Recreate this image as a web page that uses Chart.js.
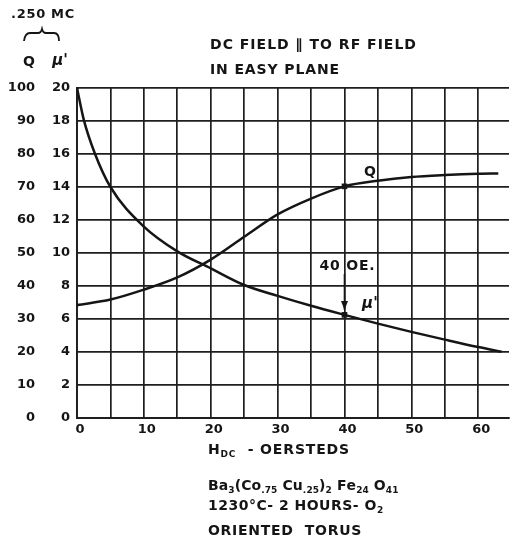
<!DOCTYPE html>
<html>
<head>
<meta charset="utf-8">
<script src="https://cdn.jsdelivr.net/npm/chart.js@4.4.1/dist/chart.umd.min.js"></script>
<style>
  html, body { margin: 0; padding: 0; background: #fff; }
  #wrap { width: 513px; height: 543px; }
</style>
</head>
<body>
<div id="wrap"><canvas id="chart" width="513" height="543"></canvas></div>
<script>
// H_DC in oersteds
const qField = [0, 5, 10, 15, 20, 25, 30, 35, 40, 45, 50, 55, 60, 63];
const qValues = [34.2, 35.9, 38.9, 42.6, 48, 54.9, 61.7, 66.5, 70.2, 71.9, 73, 73.6, 74, 74.1];

const muField = [0, 1, 2.7, 5, 10, 15, 20, 25, 30, 35, 40, 45, 50, 55, 60, 63.5];
const muValues = [20, 18.1, 16, 14, 11.6, 10.1, 9.07, 8.06, 7.4, 6.8, 6.25, 5.72, 5.22, 4.75, 4.3, 4.02];

const xTickLabels = ['0', '10', '20', '30', '40', '50', '60'];
const qTickLabels = ['0', '10', '20', '30', '40', '50', '60', '70', '80', '90', '100'];
const muTickLabels = ['0', '2', '4', '6', '8', '10', '12', '14', '16', '18', '20'];

const markField = 40; // the "40 OE." point

const FONT = "'DejaVu Sans'";
const INK = '#151515';

// draws runs of normal / subscript text, spread out to a given width
function drawRich(ctx, parts, x, y, size, width) {
    let natural = 0, count = 0;
    ctx.letterSpacing = '0px';
    parts.forEach(([t, sub]) => {
        ctx.font = `bold ${sub ? Math.round(size * 0.66) : size}px ${FONT}`;
        natural += ctx.measureText(t).width;
        count += t.length;
    });
    const gap = width ? Math.max(0, (width - natural) / count) : 0;
    let cx = x;
    parts.forEach(([t, sub]) => {
        ctx.font = `bold ${sub ? Math.round(size * 0.66) : size}px ${FONT}`;
        for (const ch of t) {
            ctx.fillText(ch, cx, y + (sub ? size * 0.32 : 0));
            cx += ctx.measureText(ch).width + gap;
        }
    });
}

const textPlugin = {
    id: 'textPlugin',
    afterDraw(chart) {
        const ctx = chart.ctx;
        const sx = chart.scales.x;
        const sq = chart.scales.yQ;
        const sm = chart.scales.yMu;
        ctx.save();
        ctx.fillStyle = INK;
        ctx.strokeStyle = INK;
        ctx.textBaseline = 'middle';
        ctx.textAlign = 'left';

        drawRich(ctx, [['.250 MC', 0]], 11, 15, 13, 64);

        // brace over the two scales
        ctx.lineWidth = 1.8;
        ctx.beginPath();
        ctx.moveTo(24, 41);
        ctx.quadraticCurveTo(25, 33, 30, 33);
        ctx.lineTo(38, 33);
        ctx.quadraticCurveTo(41, 33, 42, 29);
        ctx.quadraticCurveTo(43, 33, 46, 33);
        ctx.lineTo(54, 33);
        ctx.quadraticCurveTo(59, 33, 59, 41);
        ctx.stroke();

        ctx.textAlign = 'center';
        ctx.font = `bold 14px ${FONT}`;
        ctx.fillText('Q', 29, 62);
        ctx.font = `italic bold 15px ${FONT}`;
        ctx.fillText("\u03bc'", 60, 61);

        ctx.textAlign = 'left';
        drawRich(ctx, [['DC FIELD \u2225 TO RF FIELD', 0]], 210, 45, 14, 207);
        drawRich(ctx, [['IN EASY PLANE', 0]], 210, 70, 14, 130);

        drawRich(ctx, [['H', 0], ['DC', 1], ['  - OERSTEDS', 0]], 208, 450, 14, 142);
        drawRich(ctx, [['Ba', 0], ['3', 1], ['(Co', 0], ['.75', 1], [' Cu', 0], ['.25', 1], [')', 0], ['2', 1],
            [' Fe', 0], ['24', 1], [' O', 0], ['41', 1]], 208, 486, 14, 190);
        drawRich(ctx, [['1230\u00b0C- 2 HOURS- O', 0], ['2', 1]], 208, 506, 14, 176);
        drawRich(ctx, [['ORIENTED  TORUS', 0]], 208, 531, 14, 154);

        // 40 OE. arrow down to the mu' point
        const px = sx.getPixelForValue(markField);
        const muAt = muValues[muField.indexOf(markField)];
        const py = sm.getPixelForValue(muAt);
        drawRich(ctx, [['40 OE.', 0]], px - 25, 266, 14, 56);
        ctx.lineWidth = 1.6;
        ctx.beginPath();
        ctx.moveTo(px, 274);
        ctx.lineTo(px, py - 5);
        ctx.stroke();
        ctx.beginPath();
        ctx.moveTo(px - 3.5, py - 14);
        ctx.lineTo(px + 3.5, py - 14);
        ctx.lineTo(px, py - 5);
        ctx.closePath();
        ctx.fill();

        // curve names
        ctx.textAlign = 'center';
        ctx.letterSpacing = '0px';
        ctx.font = `bold 14px ${FONT}`;
        ctx.fillText('Q', sx.getPixelForValue(43.8), sq.getPixelForValue(74.5));
        ctx.font = `italic bold 15px ${FONT}`;
        ctx.fillText("\u03bc'", sx.getPixelForValue(43.8), sm.getPixelForValue(6.9));
        ctx.restore();
    }
};

function markRadius(fields) {
    return c => {
        const f = fields[c.dataIndex];
        if (f === markField) return 4;
        if (f === 0) return 2;
        return 0;
    };
}

new Chart(document.getElementById('chart'), {
    type: 'line',
    data: {
        datasets: [{
            label: 'Q',
            data: qField.map((x, i) => ({ x, y: qValues[i] })),
            yAxisID: 'yQ',
            borderColor: INK,
            backgroundColor: INK,
            borderWidth: 2.5,
            cubicInterpolationMode: 'monotone',
            pointStyle: 'rect',
            pointRadius: markRadius(qField),
            pointBorderWidth: 0
        }, {
            label: "\u03bc'",
            data: muField.map((x, i) => ({ x, y: muValues[i] })),
            yAxisID: 'yMu',
            borderColor: INK,
            backgroundColor: INK,
            borderWidth: 2.5,
            cubicInterpolationMode: 'monotone',
            pointStyle: 'rect',
            pointRadius: markRadius(muField),
            pointBorderWidth: 0
        }]
    },
    options: {
        responsive: false,
        animation: false,
        layout: { padding: { left: 0, right: 0, top: 88, bottom: 95 } },
        plugins: {
            legend: { display: false },
            tooltip: { enabled: false }
        },
        scales: {
            x: {
                type: 'linear',
                min: 0,
                max: 64.6,
                afterFit: s => { s.height = 30; },
                ticks: {
                    stepSize: 5,
                    includeBounds: false,
                    autoSkip: false,
                    maxRotation: 0,
                    padding: 4,
                    labelOffset: 3,
                    color: INK,
                    font: { family: FONT, size: 13, weight: 'bold' },
                    callback: v => xTickLabels.includes(String(v)) ? String(v) : ''
                },
                grid: { color: '#1e1e1e', lineWidth: 1.7, drawTicks: false },
                border: { display: true, color: '#1e1e1e', width: 1.9 }
            },
            yQ: {
                type: 'linear',
                position: 'left',
                weight: 2,
                min: 0,
                max: 100,
                afterFit: s => { s.width = 40; },
                ticks: {
                    stepSize: 10,
                    padding: 5,
                    color: INK,
                    font: { family: FONT, size: 13, weight: 'bold' },
                    callback: (v, i) => qTickLabels[i]
                },
                grid: { color: '#1e1e1e', lineWidth: 1.7, drawTicks: false },
                border: { display: false }
            },
            yMu: {
                type: 'linear',
                position: 'left',
                weight: 1,
                min: 0,
                max: 20,
                afterFit: s => { s.width = 37; },
                ticks: {
                    stepSize: 2,
                    padding: 7,
                    color: INK,
                    font: { family: FONT, size: 13, weight: 'bold' },
                    callback: (v, i) => muTickLabels[i]
                },
                grid: { display: false, drawTicks: false },
                border: { display: true, color: '#1e1e1e', width: 1.9 }
            }
        }
    },
    plugins: [textPlugin]
});
</script>
</body>
</html>
